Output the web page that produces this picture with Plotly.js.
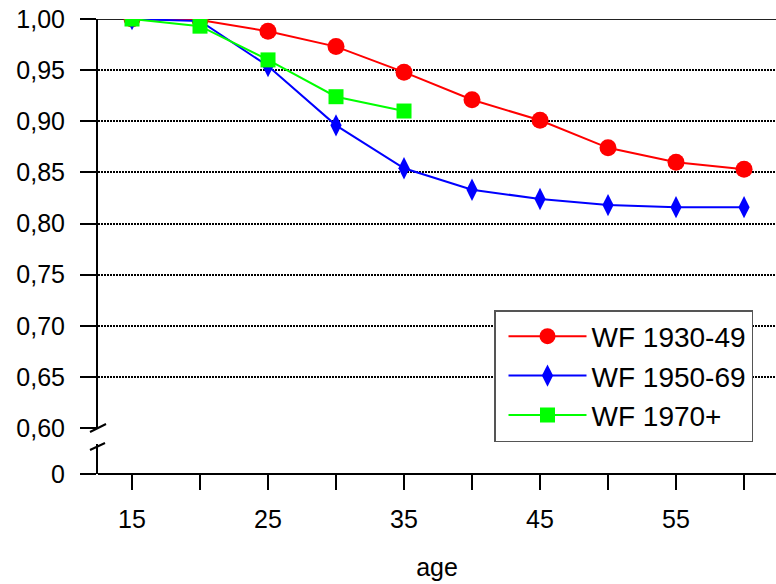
<!DOCTYPE html>
<html>
<head>
<meta charset="utf-8">
<script src="https://cdn.plot.ly/plotly-3.0.1.min.js"></script>
<style>html,body{margin:0;padding:0;background:#fff;}#chart{width:776px;height:584px;}</style>
</head>
<body>
<div id="chart"></div>
<script>
const ages = [15, 20, 25, 30, 35, 40, 45, 50, 55, 60];
const ages1970 = [15, 20, 25, 30, 35];
const wf1930 = [1.000, 0.999, 0.988, 0.973, 0.948, 0.921, 0.901, 0.874, 0.860, 0.853];
const wf1950 = [1.000, 0.998, 0.954, 0.896, 0.854, 0.833, 0.824, 0.818, 0.816, 0.816];
const wf1970 = [1.000, 0.993, 0.960, 0.924, 0.910];
const seriesNames = ['WF 1930-49', 'WF 1950-69', 'WF 1970+'];
const yTicks = [0.60, 0.65, 0.70, 0.75, 0.80, 0.85, 0.90, 0.95, 1.00];
const yBreakTicks = [0];
const yBreakLabels = ['0'];
const xTicks = [15, 20, 25, 30, 35, 40, 45, 50, 55, 60];
const xTickLabels = ['15', '', '25', '', '35', '', '45', '', '55', ''];

const W = 776, H = 584, L = 98, R = 0, T = 19, B = 110;
const pw = W - L - R, ph = H - T - B;
const px = x => (x - L) / pw;
const py = y => (H - B - y) / ph;

const font = {family: '"Liberation Sans", Arial, sans-serif', size: 25, color: '#000'};
const legendFont = Object.assign({}, font, {size: 28});

const traces = [
  {x: ages, y: wf1930, name: seriesNames[0], mode: 'lines+markers',
   line: {color: '#FF0000', width: 2}, marker: {symbol: 'circle', size: 17, color: '#FF0000'}},
  {x: ages, y: wf1950, name: seriesNames[1], mode: 'lines+markers',
   line: {color: '#0000FF', width: 2}, marker: {symbol: 'diamond-tall', size: 16, color: '#0000FF'}},
  {x: ages1970, y: wf1970, name: seriesNames[2], mode: 'lines+markers',
   line: {color: '#00FF00', width: 2}, marker: {symbol: 'square', size: 15, color: '#00FF00'}},
  {x: [], y: [], xaxis: 'x', yaxis: 'y2', showlegend: false, hoverinfo: 'skip', mode: 'lines'}
];

const layout = {
  width: W, height: H,
  margin: {l: L, r: R, t: T, b: B, pad: 0},
  paper_bgcolor: '#fff', plot_bgcolor: 'rgba(0,0,0,0)',
  font: font,
  separators: ',.',
  showlegend: true,
  legend: {x: px(494), y: py(310), xanchor: 'left', yanchor: 'top',
    bgcolor: '#fff', bordercolor: '#555', borderwidth: 1.5, font: legendFont,
    itemwidth: 78, indentation: 8, tracegroupgap: 0},
  xaxis: {range: [12.5, 62.35], tickvals: xTicks, ticktext: xTickLabels, ticks: 'outside',
    ticklen: 15, tickwidth: 2, tickcolor: '#000', showline: false, showgrid: false,
    zeroline: false, anchor: 'y2', ticklabelstandoff: 8,
    tickfont: font, title: {text: 'age', font: font, standoff: 26}},
  yaxis: {domain: [py(428), 1], range: [0.6, 1.0], tickvals: yTicks, tickformat: '.2f',
    ticks: 'outside', ticklen: 16, tickwidth: 2, tickcolor: '#000', showline: true,
    linecolor: '#000', linewidth: 2, showgrid: true, gridcolor: '#000', gridwidth: 2,
    griddash: '2px,1px', zeroline: false, tickfont: font, anchor: 'x', ticklabelstandoff: 10},
  yaxis2: {domain: [0, py(444)], range: [0, 0.04], tickvals: yBreakTicks, ticktext: yBreakLabels,
    ticks: 'outside', ticklen: 16, tickwidth: 2, tickcolor: '#000', showline: true,
    linecolor: '#000', linewidth: 2, showgrid: false, zeroline: false, tickfont: font,
    anchor: 'x', ticklabelstandoff: 10},
  shapes: [
    {type: 'line', xref: 'paper', yref: 'y', x0: 0, x1: 1, y0: 1, y1: 1, line: {color: '#222', width: 2}, layer: 'below'},
    {type: 'line', xref: 'paper', yref: 'paper', x0: 0, x1: 1, y0: 0, y1: 0, line: {color: '#000', width: 2}},
    {type: 'line', xref: 'paper', yref: 'paper', x0: px(90), x1: px(106), y0: py(432), y1: py(424), line: {color: '#000', width: 2}},
    {type: 'line', xref: 'paper', yref: 'paper', x0: px(90), x1: px(105), y0: py(450), y1: py(443), line: {color: '#000', width: 2}}
  ]
};

Plotly.newPlot('chart', traces, layout, {displayModeBar: false, staticPlot: true});
</script>
</body>
</html>
